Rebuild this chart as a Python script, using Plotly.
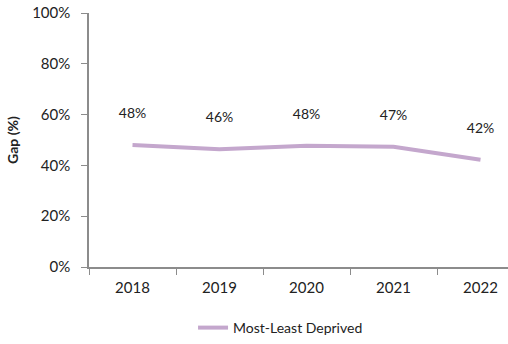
import plotly.graph_objects as go

years = ["2018", "2019", "2020", "2021", "2022"]
gap = [0.480, 0.464, 0.477, 0.473, 0.422]
series_name = "Most-Least Deprived"
y_ticks = [0, 0.2, 0.4, 0.6, 0.8, 1.0]
y_tick_text = ["0%", "20%", "40%", "60%", "80%", "100%"]

FONT = "Lato"
LINE_COLOR = "#c4a7cd"
AXIS_COLOR = "#8c8c8c"
TEXT_COLOR = "#222222"

fig = go.Figure()
fig.add_trace(go.Scatter(
    x=years, y=gap, mode="lines", name=series_name,
    line=dict(color=LINE_COLOR, width=4),
))

# value labels above each point (transparent marker sets the offset)
fig.add_trace(go.Scatter(
    x=years, y=gap, mode="markers+text",
    texttemplate="%{y:.0%}", textposition="top center",
    marker=dict(size=36, opacity=0),
    textfont=dict(family=FONT, size=14, color=TEXT_COLOR),
    showlegend=False, hoverinfo="skip",
))

fig.update_layout(
    width=508, height=344,
    margin=dict(l=89, r=0, t=13, b=77),
    paper_bgcolor="white", plot_bgcolor="white",
    font=dict(family=FONT, size=14, color=TEXT_COLOR),
    showlegend=True,
    legend=dict(
        orientation="h", xref="container", yref="container",
        x=0.38, xanchor="left", y=-0.02, yanchor="bottom",
        font=dict(family=FONT, size=14, color=TEXT_COLOR),
    ),
)
fig.update_xaxes(
    type="category", range=[-0.5, 4.316],
    showline=True, linecolor=AXIS_COLOR, linewidth=1.5,
    ticks="outside", tickson="boundaries", ticklen=6, tickcolor=AXIS_COLOR,
    showgrid=False, zeroline=False,
    ticklabelstandoff=6,
    tickfont=dict(family=FONT, size=15),
)
fig.update_yaxes(
    range=[0, 1.0], tickvals=y_ticks, ticktext=y_tick_text,
    showline=True, linecolor=AXIS_COLOR, linewidth=1.5,
    ticks="outside", ticklen=6, tickcolor=AXIS_COLOR,
    showgrid=False, zeroline=False,
    ticklabelstandoff=8,
    tickfont=dict(family=FONT, size=15),
    title=dict(text="<b>Gap (%)</b>", font=dict(family=FONT, size=14), standoff=10),
)

fig.write_html("out.html")
